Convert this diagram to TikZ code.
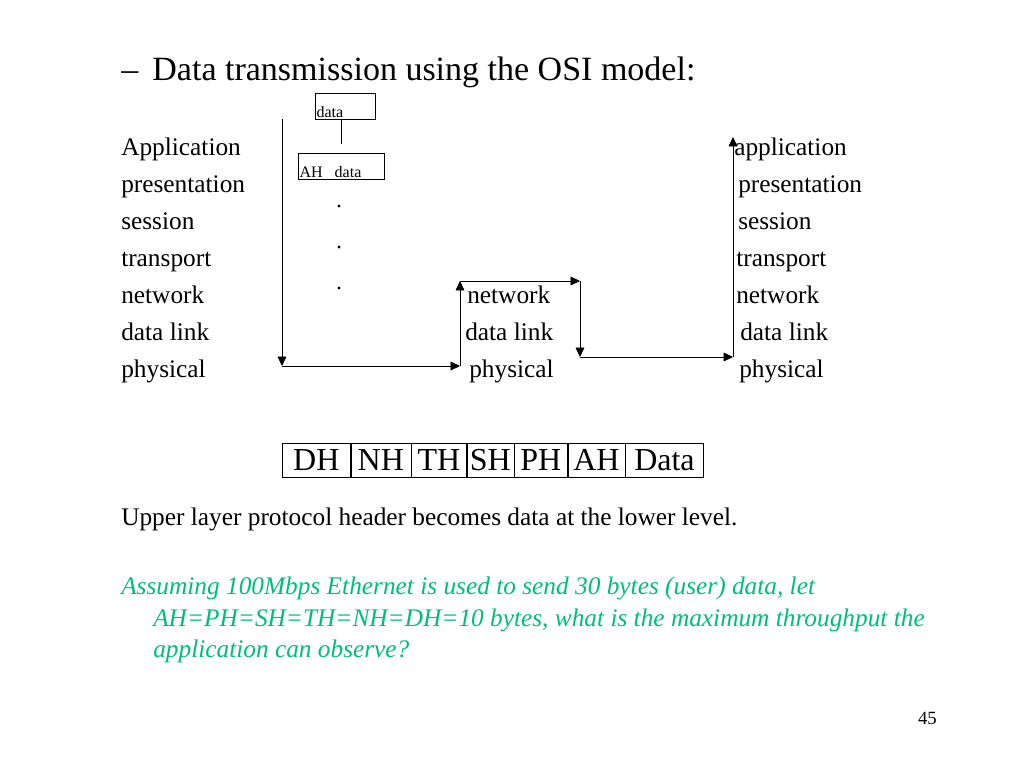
\documentclass[tikz,border=0pt]{standalone}
\usepackage{fontspec}
\setmainfont{Liberation Serif}
\usetikzlibrary{arrows.meta}
\definecolor{qgreen}{RGB}{0,190,120}
\tikzset{lay/.style={anchor=base west,font=\fontsize{19}{22}\selectfont,inner sep=0pt},
         hdr/.style={draw,anchor=west,minimum height=25.5pt,inner sep=0pt,font=\fontsize{24}{26}\selectfont},
         flow/.style={-{Triangle[length=7pt,width=6.5pt]}}}
\begin{document}
\begin{tikzpicture}[x=0.75pt,y=-0.75pt]
                \useasboundingbox (0,0) rectangle (1024,768);
                \node[anchor=base west,inner sep=0pt,font=\fontsize{25.5}{28}\selectfont] (title) at (121,80) {--\, Data transmission using the OSI model:};
                \foreach \t [count=\i] in {Application,presentation,session,transport,network,data link,physical}
                    \node[lay] (l\i) at (121,155+37*\i-37) {\t};
                \foreach \t/\x [count=\i] in {network/467,data link/465,physical/469}
                    \node[lay] (m\i) at (\x,303+37*\i-37) {\t};
                \foreach \t/\x [count=\i] in {application/734,presentation/738,session/738,transport/736,network/736,data link/740,physical/739}
                    \node[lay] (r\i) at (\x,155+37*\i-37) {\t};
                \node[draw,anchor=north west,minimum width=45pt,minimum height=19.5pt,inner sep=1pt] (d0) at (315,93) {};
                \node[anchor=south west,inner sep=1pt,font=\fontsize{12}{13}\selectfont] at (d0.south west) {data};
                \node[draw,anchor=north west,minimum width=64.5pt,minimum height=19.5pt,inner sep=1pt] (d1) at (298,153) {};
                \node[anchor=south west,inner sep=1pt,font=\fontsize{12}{13}\selectfont] at (d1.south west) {AH\ \ \ data};
                \draw (341,119) -- (341,144);
                \foreach \y in {206,247,288} \fill (339,\y) circle (1.2pt);
                \draw (282,119) coordinate (P0);
                \draw (282,366) coordinate (P1);
                \draw (460,366) coordinate (P2);
                \draw (460,281) coordinate (P3);
                \draw (580,281) coordinate (P4);
                \draw (580,357) coordinate (P5);
                \draw (733,357) coordinate (P6);
                \draw (733,137) coordinate (P7);
                \draw[flow] (P0) -- (P1);
                \draw[flow] (P1) -- (P2);
                \draw[flow] (P2) -- (P3);
                \draw[flow] (P3) -- (P4);
                \draw[flow] (P4) -- (P5);
                \draw[flow] (P5) -- (P6);
                \draw[flow] (P6) -- (P7);
                \node[hdr,minimum width=51pt] (DH) at (282,460) {DH};
                \node[hdr,minimum width=45pt,anchor=west] (NH) at (DH.east) {NH};
                \node[hdr,minimum width=41.25pt,anchor=west] (TH) at (NH.east) {TH};
                \node[hdr,minimum width=35.25pt,anchor=west] (SH) at (TH.east) {SH};
                \node[hdr,minimum width=39.75pt,anchor=west] (PH) at (SH.east) {PH};
                \node[hdr,minimum width=42.75pt,anchor=west] (AH) at (PH.east) {AH};
                \node[hdr,minimum width=58.5pt,anchor=west] (DT) at (AH.east) {Data};
                \node[lay] (note) at (121,525) {Upper layer protocol header becomes data at the lower level.};
                \node[anchor=north west,inner sep=0pt,align=left,text=qgreen,font=\itshape\fontsize{19}{23.5}\selectfont] (q) at (121,577)
                    {Assuming 100Mbps Ethernet is used to send 30 bytes (user) data, let\\
                     \hspace*{24pt}AH=PH=SH=TH=NH=DH=10 bytes, what is the maximum throughput the\\
                     \hspace*{24pt}application can observe?};
                \node[anchor=base east,inner sep=0pt,font=\fontsize{14}{16}\selectfont] (pg) at (937,724) {45};
            \end{tikzpicture}
\end{document}
